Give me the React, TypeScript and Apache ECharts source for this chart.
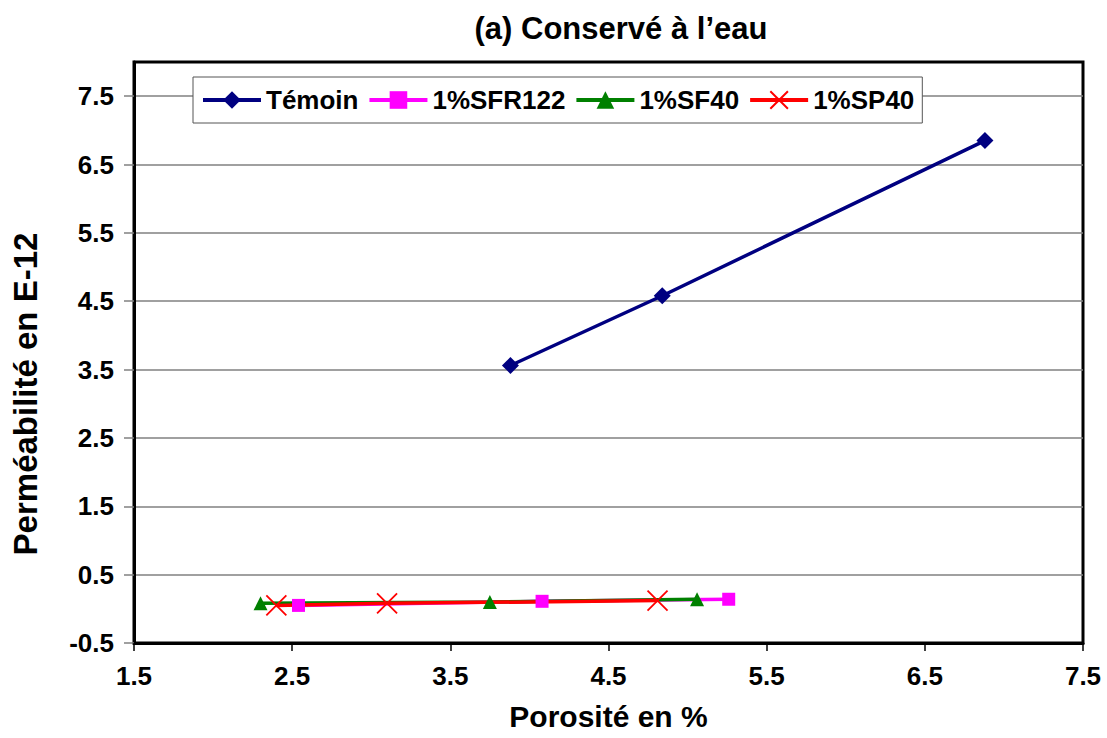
import React, { useEffect, useRef } from 'react';
import * as echarts from 'echarts';

const titleText = '(a) Conservé à l\u2019eau';
const xAxisName = 'Porosité en %';
const yAxisName = 'Perméabilité en E-12';

const seriesNames = ['Témoin', '1%SFR122', '1%SF40', '1%SP40'];
const seriesColors = ['#000080', '#FF00FF', '#008000', '#FF0000'];

const temoinX = [3.88, 4.84, 6.88];
const temoinY = [3.56, 4.58, 6.85];
const sfr122X = [2.54, 4.08, 5.26];
const sfr122Y = [0.05, 0.11, 0.14];
const sf40X = [2.3, 3.75, 5.06];
const sf40Y = [0.08, 0.1, 0.14];
const sp40X = [2.4, 3.1, 4.81];
const sp40Y = [0.05, 0.08, 0.12];

const xTicks = [1.5, 2.5, 3.5, 4.5, 5.5, 6.5, 7.5];
const yTicks = [-0.5, 0.5, 1.5, 2.5, 3.5, 4.5, 5.5, 6.5, 7.5];

const FONT = '"Liberation Sans", Arial, sans-serif';

const pairs = (xs: number[], ys: number[]) => xs.map((x, i) => [x, ys[i]]);

export default function App() {
  const ref = useRef<HTMLDivElement>(null);

  useEffect(() => {
    document.body.style.margin = '0';
    if (!ref.current) return;
    const chart = echarts.init(ref.current, undefined, { renderer: 'svg' });

    const data = [
      pairs(temoinX, temoinY),
      pairs(sfr122X, sfr122Y),
      pairs(sf40X, sf40Y),
      pairs(sp40X, sp40Y),
    ];
    const symbols = ['diamond', 'rect', 'triangle', 'path://M0,0L20,20M20,0L0,20'];
    const sizes = [17, 13, 14, 20];

    chart.setOption({
      animation: false,
      backgroundColor: '#ffffff',
      textStyle: { fontFamily: FONT },
      title: {
        text: titleText,
        left: 616,
        textAlign: 'center',
        top: 8,
        textStyle: { fontFamily: FONT, fontWeight: 'bold', fontSize: 31, color: '#000' },
      },
      legend: {
        left: 193,
        top: 77,
        padding: [10, 8],
        itemGap: 9,
        itemWidth: 58,
        itemHeight: 22,
        backgroundColor: '#ffffff',
        borderColor: '#555555',
        borderWidth: 1,
        data: seriesNames,
        lineStyle: { width: 4 },
        textStyle: { fontFamily: FONT, fontWeight: 'bold', fontSize: 26, color: '#000' },
      },
      grid: {
        left: 134,
        right: 24,
        top: 62,
        bottom: 95,
        show: true,
        borderColor: '#000',
        borderWidth: 3,
        backgroundColor: 'transparent',
      },
      graphic: [
        {
          type: 'text',
          x: 25,
          y: 394,
          rotation: Math.PI / 2,
          style: {
            text: yAxisName,
            fontFamily: FONT,
            fontWeight: 'bold',
            fontSize: 33,
            fill: '#000',
            align: 'center',
            verticalAlign: 'middle',
          },
        },
      ],
      xAxis: {
        type: 'value',
        min: 1.5,
        max: 7.5,
        name: xAxisName,
        nameLocation: 'middle',
        nameGap: 58,
        nameTextStyle: { fontFamily: FONT, fontWeight: 'bold', fontSize: 30, color: '#000' },
        axisLine: { show: true, onZero: false, lineStyle: { color: '#000', width: 3 } },
        axisTick: { show: true, inside: false, length: 8, customValues: xTicks, lineStyle: { color: '#000', width: 1.5 } },
        axisLabel: {
          customValues: xTicks,
          margin: 20,
          formatter: (v: number) => v.toFixed(1),
          fontFamily: FONT,
          fontWeight: 'bold',
          fontSize: 26,
          color: '#000',
        },
        splitLine: { show: false },
      },
      yAxis: {
        type: 'value',
        min: -0.5,
        max: 8,
        axisLine: { show: true, onZero: false, lineStyle: { color: '#000', width: 3 } },
        axisTick: { show: true, inside: false, length: 10, customValues: yTicks, lineStyle: { color: '#808080', width: 1.5 } },
        axisLabel: {
          customValues: yTicks,
          margin: 20,
          formatter: (v: number) => v.toFixed(1),
          fontFamily: FONT,
          fontWeight: 'bold',
          fontSize: 26,
          color: '#000',
        },
        splitLine: { show: true, lineStyle: { color: '#808080', width: 1.5 } },
      },
      series: seriesNames.map((name, i) => ({
        name,
        type: 'line',
        data: data[i],
        symbol: symbols[i],
        symbolSize: sizes[i],
        showSymbol: true,
        lineStyle: { color: seriesColors[i], width: 3.5 },
        itemStyle: {
          color: seriesColors[i],
          borderColor: seriesColors[i],
          borderWidth: i === 3 ? 1.8 : 0,
        },
        emphasis: { disabled: true },
      })),
    });

    return () => chart.dispose();
  }, []);

  return <div ref={ref} style={{ width: 1107, height: 738 }} />;
}
